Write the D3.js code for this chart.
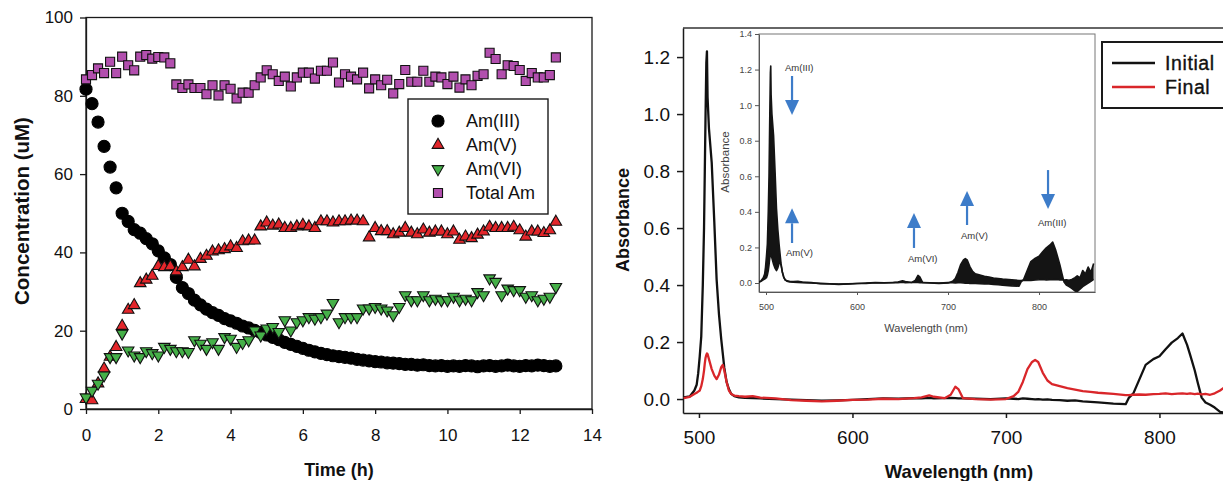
<!DOCTYPE html>
<html>
<head>
<meta charset="utf-8">
<script src="https://cdn.jsdelivr.net/npm/d3@7"></script>
<style>
  body { margin: 0; background: #fff; }
  svg { display: block; }
</style>
</head>
<body>
<svg id="fig" width="1223" height="481"></svg>
<script>
// ---------- Left panel: Am speciation vs time (samples every 10 min) ----------
const sampleMinutes = d3.range(0, 790, 10);
const amIII = [81.7,78.0,73.3,67.1,61.8,56.5,50.0,47.9,45.8,44.9,
  43.5,42.2,40.4,38.6,36.9,33.6,31.0,29.5,27.8,26.6,
  25.5,24.6,23.9,23.1,22.5,21.9,21.2,20.7,20.1,19.5,
  18.9,18.3,17.7,17.0,16.5,16.0,15.5,15.0,14.6,14.2,
  13.9,13.6,13.4,13.2,13.0,12.7,12.5,12.3,12.1,12.0,
  11.8,11.7,11.6,11.4,11.4,11.2,11.3,11.1,11.0,11.1,
  10.9,11.0,10.9,11.1,11.0,10.8,11.0,11.1,10.9,11.0,
  11.2,11.0,10.9,11.1,11.0,11.2,11.1,10.9,11.0];
const amV = [2.5,2.2,6.5,10.3,13.3,15.8,21.2,25.3,26.5,32.1,
  33.0,34.0,36.5,36.2,36.4,35.1,36.2,38.1,36.4,38.3,
  39.1,40.2,40.5,40.8,41.5,41.1,42.8,43.0,43.0,46.6,
  47.6,46.8,47.1,46.2,46.2,46.6,47.0,46.6,46.2,47.9,
  47.9,47.6,47.9,47.9,48.1,48.1,47.9,43.8,46.2,45.4,
  45.4,44.6,45.0,46.2,45.0,44.6,45.8,45.0,45.3,45.3,
  44.6,45.3,43.2,44.0,43.6,44.5,45.3,46.5,46.2,46.2,
  46.2,46.5,45.6,44.0,45.3,45.3,44.9,45.6,47.8];
const amVI = [3.0,4.7,6.5,8.6,13.3,13.3,19.3,15.0,13.7,13.3,
  14.8,14.3,13.7,15.9,15.4,14.8,14.8,14.6,17.6,16.7,
  15.4,17.1,15.4,18.4,18.0,15.9,16.9,17.6,20.1,18.8,
  20.6,21.0,19.7,22.7,20.1,22.2,22.7,23.5,23.1,23.5,
  24.4,27.1,22.2,23.5,23.5,23.5,25.7,25.7,26.1,25.7,
  25.2,24.0,26.1,29.1,27.8,27.8,29.1,27.8,28.2,27.8,
  27.8,28.7,27.8,28.2,27.8,29.9,29.1,33.4,32.5,29.1,
  30.8,30.4,30.4,28.7,29.1,27.8,28.2,28.7,31.2];
const totalAm = [84.2,85.3,87.0,85.8,88.7,85.8,90.0,87.8,86.5,90.0,
  90.4,89.5,89.9,89.8,88.3,82.9,82.0,82.9,82.0,82.0,
  80.4,82.7,80.1,82.7,81.8,79.3,80.8,80.8,82.7,84.7,
  86.5,85.5,83.8,84.9,82.4,84.7,85.9,85.9,84.4,86.4,
  86.4,88.5,83.4,85.5,84.9,84.2,85.9,81.9,84.2,82.7,
  84.1,80.6,83.0,86.6,83.6,83.6,86.4,83.6,84.9,84.7,
  83.0,84.9,82.1,84.2,82.7,85.1,85.5,91.0,89.4,85.5,
  87.8,87.6,86.6,83.8,85.8,84.7,84.7,85.3,89.8];
const seriesNames = ["Am(III)", "Am(V)", "Am(VI)", "Total Am"];
const concTicks = [0, 20, 40, 60, 80, 100];
const timeTicks = [0, 2, 4, 6, 8, 10, 12, 14];

// ---------- Right panel: absorbance spectra ----------
const wavelength = [490,494,497,498.5,499.5,500.5,501.5,502.5,503.3,503.8,
  504.3,504.8,505.2,505.6,506.5,508.3,510,511.5,513,514.5,
  515.5,516.5,518,519.5,521,523,526,530,535,540,
  550,560,570,580,590,600,610,620,630,640,
  645,650,653,660,664,667,669,672,680,690,
  700,705,708,711,714,717,719,721,724,727,
  730,735,740,745,750,755,760,770,778,780,
  783,787,791,796,800,804,808,812,815,818,
  820,823,825,827.5,830,833,836,839.5,842,845,
  848,851,854,857,860];
const absInitial = [0.006,0.009,0.03,0.05,0.09,0.15,0.22,0.40,0.60,0.80,
  1.00,1.18,1.22,1.06,0.95,0.83,0.62,0.42,0.30,0.21,
  0.16,0.11,0.06,0.035,0.018,0.01,0.006,0.004,0.003,0.002,
  0.0,-0.002,-0.004,-0.006,-0.005,-0.003,0.0,0.002,0.001,0.003,
  0.002,0.004,0.002,0.003,0.004,0.003,0.002,0.002,0.001,0.0,
  0.002,0.001,0.0,0.002,0.001,0.0,-0.001,0.0,-0.002,-0.001,
  -0.003,-0.004,-0.006,-0.005,-0.008,-0.010,-0.012,-0.016,-0.018,0.004,
  0.02,0.07,0.12,0.14,0.15,0.175,0.198,0.214,0.23,0.19,
  0.155,0.10,0.056,0.005,-0.012,-0.02,-0.03,-0.045,-0.048,-0.035,
  -0.02,-0.01,0.0,0.01,0.02];
const absFinal = [0.003,0.008,0.018,0.022,0.026,0.03,0.045,0.07,0.10,0.125,
  0.145,0.155,0.16,0.158,0.14,0.105,0.082,0.07,0.085,0.112,
  0.12,0.10,0.06,0.03,0.018,0.012,0.01,0.008,0.01,0.005,
  0.002,-0.004,-0.006,-0.008,-0.006,-0.003,-0.002,0.001,0.0,0.003,
  0.006,0.013,0.008,0.003,0.015,0.043,0.035,0.003,0.0,-0.002,
  0.0,0.01,0.025,0.06,0.105,0.13,0.137,0.13,0.092,0.065,
  0.052,0.045,0.038,0.033,0.028,0.025,0.022,0.018,0.014,0.014,
  0.015,0.016,0.015,0.017,0.018,0.02,0.017,0.019,0.02,0.018,
  0.02,0.017,0.019,0.016,0.018,0.015,0.02,0.03,0.04,0.03,
  0.07,0.05,0.09,0.06,0.11];
const spectrumNames = ["Initial", "Final"];
const absTicks = [0.0, 0.2, 0.4, 0.6, 0.8, 1.0, 1.2];
const wlTicks = [500, 600, 700, 800];
const insetAbsTicks = [0.0, 0.2, 0.4, 0.6, 0.8, 1.0, 1.2, 1.4];

// Arrow annotations in the inset (wavelength nm, absorbance)
const arrowLabels = ["Am(III)", "Am(V)", "Am(VI)", "Am(V)", "Am(III)"];
const arrowWl = [528.6, 528.6, 662.6, 720.9, 809.9];
const arrowFrom = [1.164, 0.225, 0.197, 0.326, 0.635];
const arrowTo = [0.944, 0.420, 0.393, 0.517, 0.416];
const labelWl = [520.9, 522.0, 656.0, 714.3, 798.9];
const labelAbs = [1.19, 0.152, 0.12, 0.249, 0.32];

// ---------------------------------------------------------------
const FONT = "Arial, 'Liberation Sans', Helvetica, sans-serif";
const INK = "#1a1a1a";
const svg = d3.select("#fig");

function styleAxis(g, fontSize, color, width, textColor) {
  g.attr("font-family", FONT);
  g.select(".domain").attr("stroke", color).attr("stroke-width", width);
  g.selectAll(".tick line").attr("stroke", color).attr("stroke-width", width);
  g.selectAll(".tick text").attr("font-size", fontSize).attr("fill", textColor || "#111");
}

// ======================= LEFT PANEL =======================
const xL = d3.scaleLinear().domain([0, 14]).range([86, 592]);
const yL = d3.scaleLinear().domain([0, 100]).range([409, 17.5]);
const left = svg.append("g");

left.append("rect")
  .attr("x", xL.range()[0]).attr("y", yL.range()[1])
  .attr("width", xL.range()[1] - xL.range()[0])
  .attr("height", yL.range()[0] - yL.range()[1])
  .attr("fill", "none").attr("stroke", INK).attr("stroke-width", 1.3);

styleAxis(left.append("g")
  .attr("transform", `translate(${xL(0)},0)`)
  .call(d3.axisLeft(yL).tickValues(concTicks).tickSize(6).tickPadding(7).tickSizeOuter(0)),
  "17px", INK, 1.3);

styleAxis(left.append("g")
  .attr("transform", `translate(0,${yL(0)})`)
  .call(d3.axisBottom(xL).tickValues(timeTicks).tickSize(5).tickPadding(15).tickSizeOuter(0)),
  "17px", INK, 1.3);

left.append("text")
  .attr("transform", "translate(22,211) rotate(-90)")
  .attr("text-anchor", "middle").attr("dy", "0.35em")
  .attr("font-family", FONT).attr("font-size", "20.5px").attr("font-weight", "bold")
  .attr("fill", "#111").text("Concentration (uM)");

left.append("text")
  .attr("x", 339).attr("y", 476)
  .attr("text-anchor", "middle")
  .attr("font-family", FONT).attr("font-size", "18px").attr("font-weight", "bold")
  .attr("fill", "#111").text("Time (h)");

const shapes = {
  circle: d3.symbol().type(d3.symbolCircle).size(115)(),
  triangle: d3.symbol().type(d3.symbolTriangle).size(58)(),
  square: d3.symbol().type(d3.symbolSquare).size(82)()
};
const seriesDefs = [
  { values: amIII,   path: shapes.circle,   rot: 0,   fill: "#000000", stroke: "#000000" },
  { values: amV,     path: shapes.triangle, rot: 0,   fill: "#e3262b", stroke: "#111" },
  { values: amVI,    path: shapes.triangle, rot: 180, fill: "#45b048", stroke: "#111" },
  { values: totalAm, path: shapes.square,   rot: 0,   fill: "#b24fae", stroke: "#111" }
];

seriesDefs.forEach(s => {
  left.append("g").selectAll("path")
    .data(s.values.map((v, i) => ({ t: sampleMinutes[i] / 60, v })))
    .join("path")
    .attr("d", s.path)
    .attr("transform", d => `translate(${xL(d.t)},${yL(d.v)}) rotate(${s.rot})`)
    .attr("fill", s.fill).attr("stroke", s.stroke).attr("stroke-width", 1.1);
});

// legend
const legL = left.append("g");
legL.append("rect").attr("x", 408).attr("y", 99).attr("width", 140).attr("height", 115)
  .attr("fill", "#fff").attr("stroke", INK).attr("stroke-width", 1.4);
seriesNames.forEach((name, i) => {
  const cy = 121 + i * 24;
  const s = seriesDefs[i];
  legL.append("path").attr("d", s.path)
    .attr("transform", `translate(438,${cy}) rotate(${s.rot})`)
    .attr("fill", s.fill).attr("stroke", s.stroke).attr("stroke-width", 1.1);
  legL.append("text").attr("x", 466).attr("y", cy).attr("dy", "0.36em")
    .attr("font-family", FONT).attr("font-size", "18px").attr("fill", "#111").text(name);
});

// ======================= RIGHT PANEL =======================
const xR = d3.scaleLinear().domain([489.6, 841.4]).range([683, 1223]);
const yR = d3.scaleLinear().domain([-0.049, 1.302]).range([413, 28]);
const right = svg.append("g");

right.append("clipPath").attr("id", "clipMain").append("rect")
  .attr("x", 683).attr("y", 28).attr("width", 540).attr("height", 385);

right.append("line").attr("x1", 683).attr("x2", 1223).attr("y1", 28).attr("y2", 28)
  .attr("stroke", "#333").attr("stroke-width", 1.5);

styleAxis(right.append("g")
  .attr("transform", "translate(683,0)")
  .call(d3.axisLeft(yR).tickValues(absTicks).tickFormat(d3.format(".1f")).tickSize(6).tickPadding(7).tickSizeOuter(0)),
  "19px", INK, 1.5);

styleAxis(right.append("g")
  .attr("transform", "translate(0,413)")
  .call(d3.axisBottom(xR).tickValues(wlTicks).tickSize(5).tickPadding(13).tickSizeOuter(0)),
  "19px", INK, 1.5);

right.append("text")
  .attr("transform", "translate(623,220) rotate(-90)")
  .attr("text-anchor", "middle").attr("dy", "0.35em")
  .attr("font-family", FONT).attr("font-size", "18px").attr("font-weight", "bold")
  .attr("fill", "#111").text("Absorbance");

right.append("text")
  .attr("x", 959).attr("y", 478).attr("text-anchor", "middle")
  .attr("font-family", FONT).attr("font-size", "18.5px").attr("font-weight", "bold")
  .attr("fill", "#111").text("Wavelength (nm)");

const spectra = [
  { values: absInitial, color: "#111111" },
  { values: absFinal,   color: "#d9262a" }
];
const lineR = vals => d3.line()
  .x((d, i) => xR(wavelength[i])).y(d => yR(d))(vals);

const plotR = right.append("g").attr("clip-path", "url(#clipMain)");
spectra.forEach(s => {
  plotR.append("path").attr("d", lineR(s.values))
    .attr("fill", "none").attr("stroke", s.color).attr("stroke-width", 2.3)
    .attr("stroke-linejoin", "round");
});

// legend
const legR = right.append("g");
legR.append("rect").attr("x", 1102).attr("y", 42).attr("width", 140).attr("height", 66)
  .attr("fill", "#fff").attr("stroke", INK).attr("stroke-width", 2);
spectrumNames.forEach((name, i) => {
  const cy = 63 + i * 24;
  legR.append("line").attr("x1", 1112).attr("x2", 1155).attr("y1", cy).attr("y2", cy)
    .attr("stroke", spectra[i].color).attr("stroke-width", 2.5);
  legR.append("text").attr("x", 1165).attr("y", cy).attr("dy", "0.36em")
    .attr("font-family", FONT).attr("font-size", "19.5px")
    .attr("letter-spacing", "0.6px").attr("stroke", "#111").attr("stroke-width", 0.35)
    .attr("fill", "#111").text(name);
});

// ======================= INSET =======================
const xI = d3.scaleLinear().domain([492.3, 861.5]).range([759, 1095]);
const yI = d3.scaleLinear().domain([-0.0506, 1.4]).range([292, 34]);
const inset = svg.append("g");

inset.append("clipPath").attr("id", "clipInset").append("rect")
  .attr("x", 759).attr("y", 34).attr("width", 336).attr("height", 258);

inset.append("rect").attr("x", 759).attr("y", 34).attr("width", 336).attr("height", 258)
  .attr("fill", "#fff").attr("stroke", "#777").attr("stroke-width", 1);

styleAxis(inset.append("g")
  .attr("transform", "translate(759,0)")
  .call(d3.axisLeft(yI).tickValues(insetAbsTicks).tickFormat(d3.format(".1f")).tickSize(4).tickPadding(3).tickSizeOuter(0)),
  "9px", "#555", 1, "#444");

styleAxis(inset.append("g")
  .attr("transform", "translate(0,292)")
  .call(d3.axisBottom(xI).tickValues(wlTicks).tickSize(3).tickPadding(9).tickSizeOuter(0)),
  "9px", "#555", 1, "#444");

inset.append("text")
  .attr("transform", "translate(725,162) rotate(-90)")
  .attr("text-anchor", "middle").attr("dy", "0.35em")
  .attr("font-family", FONT).attr("font-size", "11.5px").attr("fill", "#444").text("Absorbance");

inset.append("text")
  .attr("x", 926).attr("y", 332).attr("text-anchor", "middle")
  .attr("font-family", FONT).attr("font-size", "11px").attr("fill", "#444").text("Wavelength (nm)");

const plotI = inset.append("g").attr("clip-path", "url(#clipInset)");
// band swept by the spectra between the first and last scans
plotI.append("path")
  .attr("d", d3.area()
    .x((d, i) => xI(wavelength[i]))
    .y0((d, i) => yI(absFinal[i]))
    .y1(d => yI(d))(absInitial))
  .attr("fill", "#141414");
spectra.forEach(s => {
  plotI.append("path")
    .attr("d", d3.line().x((d, i) => xI(wavelength[i])).y(d => yI(d))(s.values))
    .attr("fill", "none").attr("stroke", "#141414").attr("stroke-width", 1.6)
    .attr("stroke-linejoin", "round");
});

// blue arrows marking the direction of change of each band
const ARROW = "#3d7cc9";
arrowLabels.forEach((lab, i) => {
  const x = xI(arrowWl[i]);
  const y0 = yI(arrowFrom[i]);
  const y1 = yI(arrowTo[i]);
  const dir = Math.sign(y1 - y0);
  const headLen = 15, headHalf = 7;
  const yBase = y1 - dir * headLen;
  inset.append("line").attr("x1", x).attr("x2", x).attr("y1", y0).attr("y2", yBase)
    .attr("stroke", ARROW).attr("stroke-width", 2.2);
  inset.append("path")
    .attr("d", `M${x - headHalf},${yBase}L${x + headHalf},${yBase}L${x},${y1}Z`)
    .attr("fill", ARROW);
  inset.append("text")
    .attr("x", xI(labelWl[i])).attr("y", yI(labelAbs[i]))
    .attr("font-family", FONT).attr("font-size", "9.5px").attr("fill", "#333").text(lab);
});
</script>
</body>
</html>
